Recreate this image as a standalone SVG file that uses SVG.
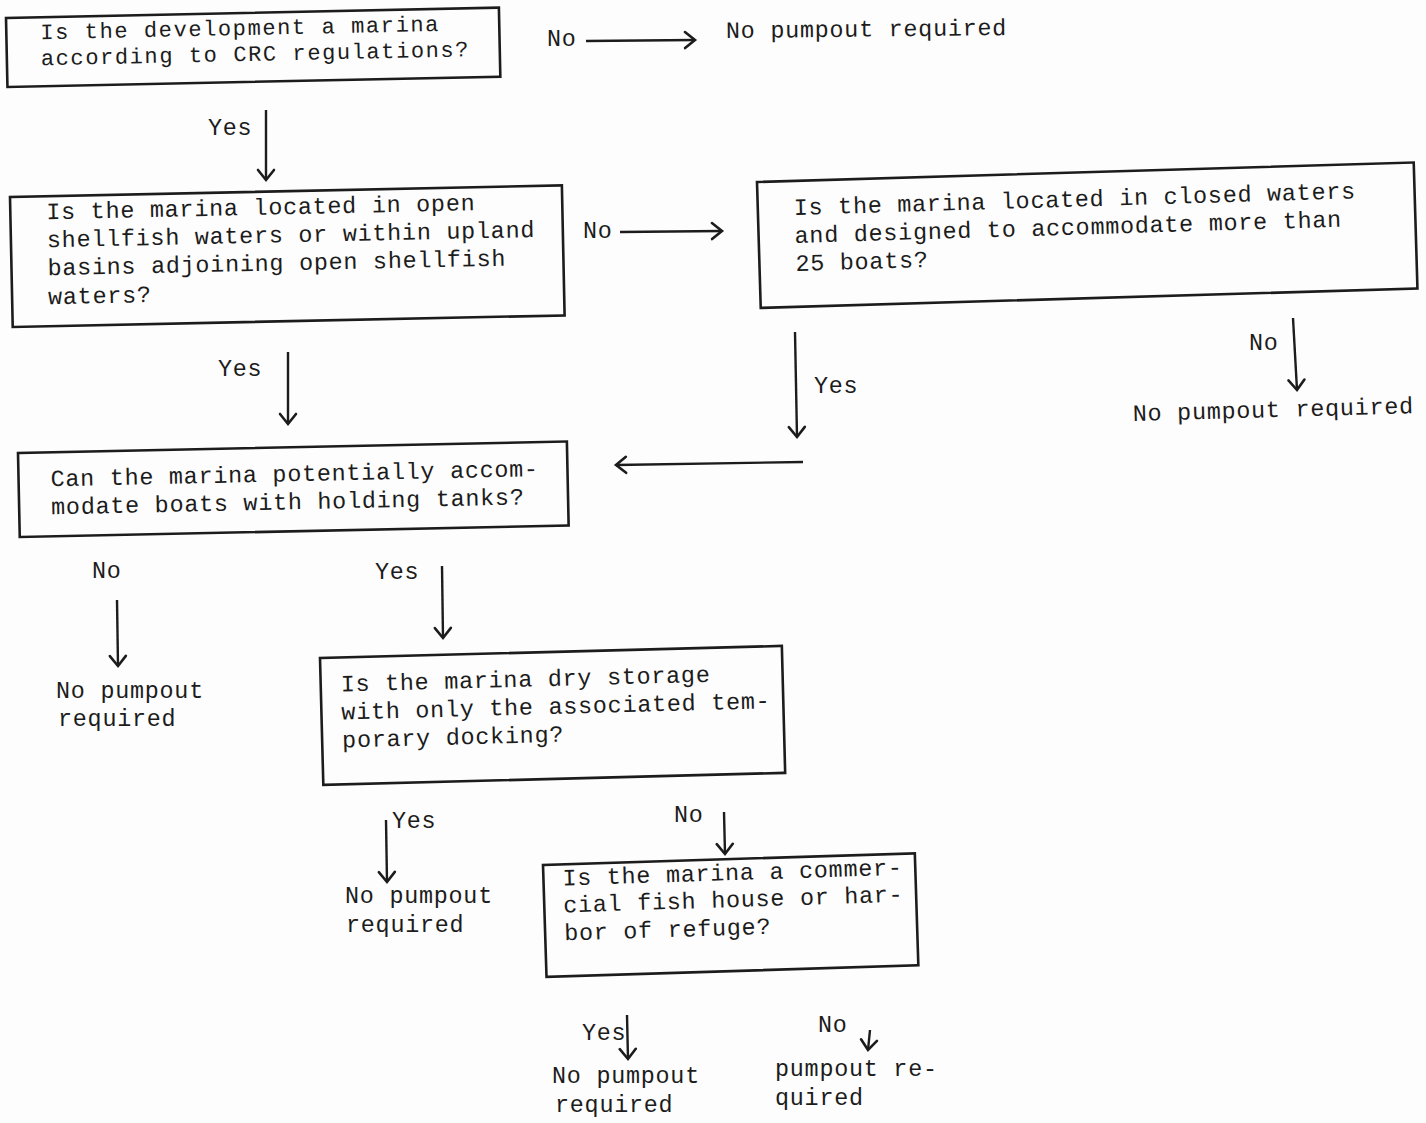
<svg xmlns="http://www.w3.org/2000/svg" width="1426" height="1123" viewBox="0 0 1426 1123">
<style>
text{font-family:"Liberation Mono","DejaVu Sans Mono",monospace;font-size:23.4px;letter-spacing:0.76px;fill:#1c1c1c}
text.sm{font-size:22px;letter-spacing:1.6px}
.box{fill:none;stroke:#1c1c1c;stroke-width:2.6}
.c{fill:none;stroke:#1c1c1c;stroke-width:2.4}
</style>
<defs>
<marker id="ah" markerUnits="userSpaceOnUse" markerWidth="24" markerHeight="24" viewBox="-12 -12 24 24" refX="0" refY="0" orient="auto">
<path d="M-10,-8 L0,0 L-10,8" fill="none" stroke="#1c1c1c" stroke-width="2.6" stroke-linecap="round"/>
</marker>
</defs>
<rect width="1426" height="1123" fill="#fdfdfd"/>
<g id="n1" transform="rotate(-1.2 6 18)">
<rect class="box" x="6" y="18" width="493" height="69"/>
<text class="sm" x="40" y="40">Is the development a marina</text>
<text class="sm" x="40" y="66">according to CRC regulations?</text>
</g>
<g id="n1no" transform="rotate(-0.6 726 38)"><text x="726" y="38">No pumpout required</text></g>
<g id="n2" transform="rotate(-1.2 10 197)">
<rect class="box" x="10" y="197" width="552" height="130"/>
<text x="46" y="220">Is the marina located in open</text>
<text x="46" y="248">shellfish waters or within upland</text>
<text x="46" y="276">basins adjoining open shellfish</text>
<text x="46" y="305">waters?</text>
</g>
<g id="n3" transform="rotate(-1.7 757 182)">
<rect class="box" x="757" y="182" width="657" height="126"/>
<text x="793" y="216">Is the marina located in closed waters</text>
<text x="793" y="244">and designed to accommodate more than</text>
<text x="793" y="272">25 boats?</text>
</g>
<g id="n3no" transform="rotate(-1.6 1133 421)"><text x="1133" y="421">No pumpout required</text></g>
<g id="n4" transform="rotate(-1.2 18 453)">
<rect class="box" x="18" y="453" width="549" height="84"/>
<text x="50" y="487">Can the marina potentially accom-</text>
<text x="50" y="515">modate boats with holding tanks?</text>
</g>
<g id="n4no"><text x="56" y="698">No pumpout</text><text x="58" y="726">required</text></g>
<g id="n5" transform="rotate(-1.5 320 658)">
<rect class="box" x="320" y="658" width="462" height="127"/>
<text x="340" y="692">Is the marina dry storage</text>
<text x="340" y="720">with only the associated tem-</text>
<text x="340" y="748">porary docking?</text>
</g>
<g id="n5yes"><text x="345" y="903">No pumpout</text><text x="346" y="932">required</text></g>
<g id="n6" transform="rotate(-1.8 543 865)">
<rect class="box" x="543" y="865" width="372" height="112"/>
<text x="562" y="886">Is the marina a commer-</text>
<text x="562" y="913">cial fish house or har-</text>
<text x="562" y="941">bor of refuge?</text>
</g>
<g id="n6yes"><text x="552" y="1083">No pumpout</text><text x="555" y="1112">required</text></g>
<g id="n6no"><text x="775" y="1076">pumpout re-</text><text x="775" y="1105">quired</text></g>
<g id="connectors">
<line class="c" x1="586" y1="41" x2="695" y2="40" marker-end="url(#ah)"/>
<text x="547" y="46">No</text>
<line class="c" x1="266" y1="110" x2="266" y2="180" marker-end="url(#ah)"/>
<text x="208" y="135">Yes</text>
<line class="c" x1="620" y1="232" x2="722" y2="231" marker-end="url(#ah)"/>
<text x="583" y="238">No</text>
<line class="c" x1="288" y1="352" x2="288" y2="424" marker-end="url(#ah)"/>
<text x="218" y="376">Yes</text>
<line class="c" x1="795" y1="332" x2="797" y2="437" marker-end="url(#ah)"/>
<text x="814" y="393">Yes</text>
<line class="c" x1="803" y1="462" x2="616" y2="465" marker-end="url(#ah)"/>
<line class="c" x1="1293" y1="318" x2="1297" y2="390" marker-end="url(#ah)"/>
<text x="1249" y="350">No</text>
<line class="c" x1="117" y1="600" x2="118" y2="666" marker-end="url(#ah)"/>
<text x="92" y="578">No</text>
<line class="c" x1="442" y1="566" x2="443" y2="638" marker-end="url(#ah)"/>
<text x="375" y="579">Yes</text>
<line class="c" x1="386" y1="820" x2="387" y2="882" marker-end="url(#ah)"/>
<text x="392" y="828">Yes</text>
<line class="c" x1="724" y1="812" x2="725" y2="854" marker-end="url(#ah)"/>
<text x="674" y="822">No</text>
<line class="c" x1="627" y1="1015" x2="628" y2="1059" marker-end="url(#ah)"/>
<text x="582" y="1040">Yes</text>
<line class="c" x1="870" y1="1030" x2="868" y2="1050" marker-end="url(#ah)"/>
<text x="818" y="1032">No</text>
</g>
</svg>
